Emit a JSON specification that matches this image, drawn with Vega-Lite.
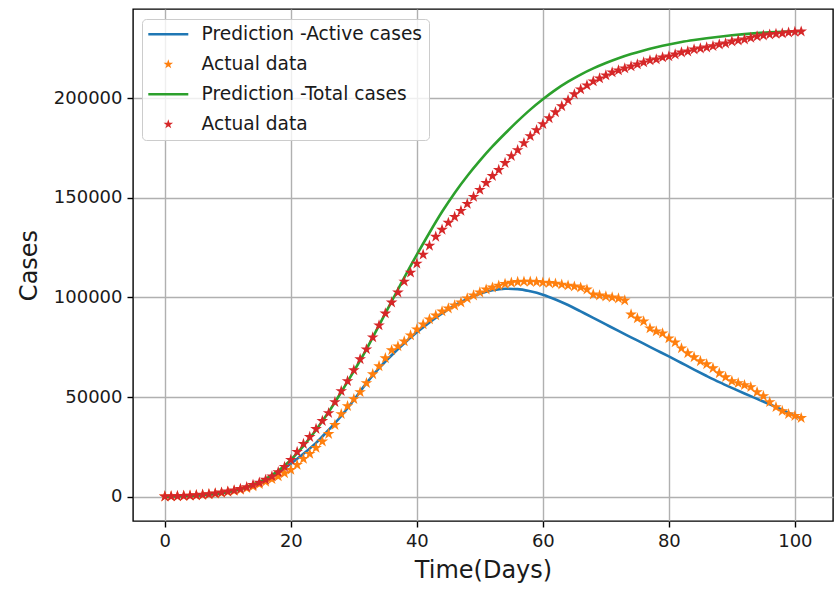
{
  "$schema": "https://vega.github.io/schema/vega-lite/v6.json",
  "width": 700,
  "height": 512,
  "autosize": {"type": "none"},
  "padding": {"left": 133, "top": 9, "right": 2, "bottom": 68},
  "background": "white",
  "config": {
    "font": "DejaVu Sans",
    "view": {"stroke": "#000000", "strokeWidth": 1.4},
    "axis": {
      "domain": false,
      "grid": true,
      "gridColor": "#b0b0b0",
      "gridWidth": 1.4,
      "tickColor": "#000000",
      "tickSize": 6,
      "tickWidth": 1.4,
      "labelFont": "DejaVu Sans",
      "labelFontSize": 18,
      "labelColor": "#1a1a1a",
      "labelPadding": 5,
      "titleFont": "DejaVu Sans",
      "titleFontSize": 24,
      "titleFontWeight": "normal",
      "titleColor": "#1a1a1a"
    }
  },
  "data": {
    "values": [
      {"s":"pa","d":0,"v":50},{"s":"pa","d":2,"v":200},{"s":"pa","d":4,"v":450},{"s":"pa","d":6,"v":800},{"s":"pa","d":8,"v":1400},{"s":"pa","d":10,"v":2300},{"s":"pa","d":12,"v":3700},{"s":"pa","d":14,"v":5600},{"s":"pa","d":16,"v":8300},{"s":"pa","d":18,"v":12000},{"s":"pa","d":20,"v":16500},{"s":"pa","d":22,"v":21500},{"s":"pa","d":24,"v":27000},{"s":"pa","d":26,"v":33500},{"s":"pa","d":28,"v":40500},{"s":"pa","d":30,"v":48500},{"s":"pa","d":32,"v":57000},{"s":"pa","d":34,"v":64500},{"s":"pa","d":36,"v":71000},{"s":"pa","d":38,"v":77000},{"s":"pa","d":40,"v":82500},{"s":"pa","d":42,"v":87500},{"s":"pa","d":44,"v":92000},{"s":"pa","d":46,"v":96000},{"s":"pa","d":48,"v":99300},{"s":"pa","d":50,"v":101900},{"s":"pa","d":52,"v":103600},{"s":"pa","d":54,"v":104400},{"s":"pa","d":56,"v":104200},{"s":"pa","d":58,"v":103100},{"s":"pa","d":60,"v":101400},{"s":"pa","d":62,"v":99000},{"s":"pa","d":64,"v":96200},{"s":"pa","d":66,"v":93000},{"s":"pa","d":68,"v":89800},{"s":"pa","d":70,"v":86500},{"s":"pa","d":72,"v":83200},{"s":"pa","d":74,"v":80000},{"s":"pa","d":76,"v":76800},{"s":"pa","d":78,"v":73600},{"s":"pa","d":80,"v":70400},{"s":"pa","d":82,"v":67100},{"s":"pa","d":84,"v":63800},{"s":"pa","d":86,"v":60600},{"s":"pa","d":88,"v":57500},{"s":"pa","d":90,"v":54600},{"s":"pa","d":92,"v":51800},{"s":"pa","d":94,"v":49100},{"s":"pa","d":96,"v":46400},{"s":"pa","d":98,"v":43600},{"s":"pa","d":100,"v":40700},{"s":"pa","d":101,"v":39300},
      {"s":"aa","d":0,"v":100},{"s":"aa","d":1,"v":150},{"s":"aa","d":2,"v":250},{"s":"aa","d":3,"v":380},{"s":"aa","d":4,"v":520},{"s":"aa","d":5,"v":700},{"s":"aa","d":6,"v":950},{"s":"aa","d":7,"v":1200},{"s":"aa","d":8,"v":1550},{"s":"aa","d":9,"v":1950},{"s":"aa","d":10,"v":2400},{"s":"aa","d":11,"v":2900},{"s":"aa","d":12,"v":3500},{"s":"aa","d":13,"v":4300},{"s":"aa","d":14,"v":5200},{"s":"aa","d":15,"v":6300},{"s":"aa","d":16,"v":7500},{"s":"aa","d":17,"v":8800},{"s":"aa","d":18,"v":10200},{"s":"aa","d":19,"v":11800},{"s":"aa","d":20,"v":13500},{"s":"aa","d":21,"v":16000},{"s":"aa","d":22,"v":19000},{"s":"aa","d":23,"v":21500},{"s":"aa","d":24,"v":24500},{"s":"aa","d":25,"v":27700},{"s":"aa","d":26,"v":31500},{"s":"aa","d":27,"v":36000},{"s":"aa","d":28,"v":41500},{"s":"aa","d":29,"v":45500},{"s":"aa","d":30,"v":49000},{"s":"aa","d":31,"v":52500},{"s":"aa","d":32,"v":57000},{"s":"aa","d":33,"v":61500},{"s":"aa","d":34,"v":65500},{"s":"aa","d":35,"v":69500},{"s":"aa","d":36,"v":73500},{"s":"aa","d":37,"v":75500},{"s":"aa","d":38,"v":78000},{"s":"aa","d":39,"v":81000},{"s":"aa","d":40,"v":84000},{"s":"aa","d":41,"v":86500},{"s":"aa","d":42,"v":89000},{"s":"aa","d":43,"v":91000},{"s":"aa","d":44,"v":93000},{"s":"aa","d":45,"v":94500},{"s":"aa","d":46,"v":96000},{"s":"aa","d":47,"v":97500},{"s":"aa","d":48,"v":99500},{"s":"aa","d":49,"v":101000},{"s":"aa","d":50,"v":102500},{"s":"aa","d":51,"v":104000},{"s":"aa","d":52,"v":105000},{"s":"aa","d":53,"v":106000},{"s":"aa","d":54,"v":106800},{"s":"aa","d":55,"v":107400},{"s":"aa","d":56,"v":107800},{"s":"aa","d":57,"v":108000},{"s":"aa","d":58,"v":107900},{"s":"aa","d":59,"v":107800},{"s":"aa","d":60,"v":107500},{"s":"aa","d":61,"v":107300},{"s":"aa","d":62,"v":107000},{"s":"aa","d":63,"v":106500},{"s":"aa","d":64,"v":106000},{"s":"aa","d":65,"v":105500},{"s":"aa","d":66,"v":105000},{"s":"aa","d":67,"v":104000},{"s":"aa","d":68,"v":101500},{"s":"aa","d":69,"v":101000},{"s":"aa","d":70,"v":100500},{"s":"aa","d":71,"v":100000},{"s":"aa","d":72,"v":99500},{"s":"aa","d":73,"v":98500},{"s":"aa","d":74,"v":91500},{"s":"aa","d":75,"v":89500},{"s":"aa","d":76,"v":88000},{"s":"aa","d":77,"v":84500},{"s":"aa","d":78,"v":83000},{"s":"aa","d":79,"v":82000},{"s":"aa","d":80,"v":79500},{"s":"aa","d":81,"v":77500},{"s":"aa","d":82,"v":74500},{"s":"aa","d":83,"v":72000},{"s":"aa","d":84,"v":70000},{"s":"aa","d":85,"v":68000},{"s":"aa","d":86,"v":66500},{"s":"aa","d":87,"v":64500},{"s":"aa","d":88,"v":62000},{"s":"aa","d":89,"v":60000},{"s":"aa","d":90,"v":58000},{"s":"aa","d":91,"v":57000},{"s":"aa","d":92,"v":56000},{"s":"aa","d":93,"v":55000},{"s":"aa","d":94,"v":52500},{"s":"aa","d":95,"v":50500},{"s":"aa","d":96,"v":47500},{"s":"aa","d":97,"v":45000},{"s":"aa","d":98,"v":43000},{"s":"aa","d":99,"v":41500},{"s":"aa","d":100,"v":40500},{"s":"aa","d":101,"v":39500},
      {"s":"pt","d":0,"v":50},{"s":"pt","d":2,"v":200},{"s":"pt","d":4,"v":450},{"s":"pt","d":6,"v":850},{"s":"pt","d":8,"v":1450},{"s":"pt","d":10,"v":2400},{"s":"pt","d":12,"v":3900},{"s":"pt","d":14,"v":6000},{"s":"pt","d":16,"v":9000},{"s":"pt","d":18,"v":13000},{"s":"pt","d":20,"v":18500},{"s":"pt","d":22,"v":25500},{"s":"pt","d":24,"v":33500},{"s":"pt","d":26,"v":42500},{"s":"pt","d":28,"v":52500},{"s":"pt","d":30,"v":63000},{"s":"pt","d":32,"v":74000},{"s":"pt","d":34,"v":86000},{"s":"pt","d":36,"v":98000},{"s":"pt","d":38,"v":110000},{"s":"pt","d":40,"v":121500},{"s":"pt","d":42,"v":132500},{"s":"pt","d":44,"v":143000},{"s":"pt","d":46,"v":152500},{"s":"pt","d":48,"v":161000},{"s":"pt","d":50,"v":168700},{"s":"pt","d":52,"v":175800},{"s":"pt","d":54,"v":182300},{"s":"pt","d":56,"v":188500},{"s":"pt","d":58,"v":194300},{"s":"pt","d":60,"v":199500},{"s":"pt","d":62,"v":204200},{"s":"pt","d":64,"v":208300},{"s":"pt","d":66,"v":211900},{"s":"pt","d":68,"v":215000},{"s":"pt","d":70,"v":217700},{"s":"pt","d":72,"v":220100},{"s":"pt","d":74,"v":222200},{"s":"pt","d":76,"v":224000},{"s":"pt","d":78,"v":225600},{"s":"pt","d":80,"v":227000},{"s":"pt","d":82,"v":228200},{"s":"pt","d":84,"v":229200},{"s":"pt","d":86,"v":230100},{"s":"pt","d":88,"v":230900},{"s":"pt","d":90,"v":231600},{"s":"pt","d":92,"v":232200},{"s":"pt","d":94,"v":232700},{"s":"pt","d":96,"v":233100},{"s":"pt","d":98,"v":233400},{"s":"pt","d":100,"v":233600},{"s":"pt","d":101,"v":233700},
      {"s":"at","d":0,"v":100},{"s":"at","d":1,"v":150},{"s":"at","d":2,"v":250},{"s":"at","d":3,"v":400},{"s":"at","d":4,"v":550},{"s":"at","d":5,"v":750},{"s":"at","d":6,"v":1000},{"s":"at","d":7,"v":1300},{"s":"at","d":8,"v":1700},{"s":"at","d":9,"v":2100},{"s":"at","d":10,"v":2600},{"s":"at","d":11,"v":3200},{"s":"at","d":12,"v":3900},{"s":"at","d":13,"v":4800},{"s":"at","d":14,"v":5900},{"s":"at","d":15,"v":7100},{"s":"at","d":16,"v":8500},{"s":"at","d":17,"v":10200},{"s":"at","d":18,"v":12300},{"s":"at","d":19,"v":15000},{"s":"at","d":20,"v":18500},{"s":"at","d":21,"v":22500},{"s":"at","d":22,"v":26500},{"s":"at","d":23,"v":30000},{"s":"at","d":24,"v":34000},{"s":"at","d":25,"v":38000},{"s":"at","d":26,"v":42000},{"s":"at","d":27,"v":47500},{"s":"at","d":28,"v":53000},{"s":"at","d":29,"v":58000},{"s":"at","d":30,"v":63500},{"s":"at","d":31,"v":69000},{"s":"at","d":32,"v":74000},{"s":"at","d":33,"v":80000},{"s":"at","d":34,"v":86000},{"s":"at","d":35,"v":92000},{"s":"at","d":36,"v":97500},{"s":"at","d":37,"v":102500},{"s":"at","d":38,"v":108000},{"s":"at","d":39,"v":112500},{"s":"at","d":40,"v":117000},{"s":"at","d":41,"v":121500},{"s":"at","d":42,"v":126000},{"s":"at","d":43,"v":130500},{"s":"at","d":44,"v":134000},{"s":"at","d":45,"v":137500},{"s":"at","d":46,"v":140500},{"s":"at","d":47,"v":143500},{"s":"at","d":48,"v":147000},{"s":"at","d":49,"v":150500},{"s":"at","d":50,"v":154000},{"s":"at","d":51,"v":157500},{"s":"at","d":52,"v":161000},{"s":"at","d":53,"v":164000},{"s":"at","d":54,"v":167500},{"s":"at","d":55,"v":171000},{"s":"at","d":56,"v":174000},{"s":"at","d":57,"v":177500},{"s":"at","d":58,"v":181000},{"s":"at","d":59,"v":184000},{"s":"at","d":60,"v":187000},{"s":"at","d":61,"v":190000},{"s":"at","d":62,"v":193000},{"s":"at","d":63,"v":196000},{"s":"at","d":64,"v":199000},{"s":"at","d":65,"v":202000},{"s":"at","d":66,"v":204500},{"s":"at","d":67,"v":206500},{"s":"at","d":68,"v":208500},{"s":"at","d":69,"v":210000},{"s":"at","d":70,"v":211500},{"s":"at","d":71,"v":213000},{"s":"at","d":72,"v":214000},{"s":"at","d":73,"v":215000},{"s":"at","d":74,"v":216000},{"s":"at","d":75,"v":217000},{"s":"at","d":76,"v":218000},{"s":"at","d":77,"v":219000},{"s":"at","d":78,"v":219500},{"s":"at","d":79,"v":220500},{"s":"at","d":80,"v":221000},{"s":"at","d":81,"v":222000},{"s":"at","d":82,"v":223000},{"s":"at","d":83,"v":223500},{"s":"at","d":84,"v":224500},{"s":"at","d":85,"v":225000},{"s":"at","d":86,"v":225500},{"s":"at","d":87,"v":226200},{"s":"at","d":88,"v":227000},{"s":"at","d":89,"v":227500},{"s":"at","d":90,"v":228500},{"s":"at","d":91,"v":229000},{"s":"at","d":92,"v":229500},{"s":"at","d":93,"v":230300},{"s":"at","d":94,"v":231000},{"s":"at","d":95,"v":231500},{"s":"at","d":96,"v":232000},{"s":"at","d":97,"v":232300},{"s":"at","d":98,"v":232600},{"s":"at","d":99,"v":233000},{"s":"at","d":100,"v":233300},{"s":"at","d":101,"v":233500}
    ]
  },
  "encoding": {
    "x": {
      "field": "d", "type": "quantitative",
      "scale": {"domain": [-5.05, 106.05], "nice": false, "zero": false},
      "axis": {"values": [0, 20, 40, 60, 80, 100], "title": "Time(Days)", "titlePadding": 8}
    },
    "y": {
      "field": "v", "type": "quantitative",
      "scale": {"domain": [-12200, 244800], "nice": false, "zero": false},
      "axis": {"values": [0, 50000, 100000, 150000, 200000], "format": "d", "title": "Cases", "titlePadding": 12}
    },
    "color": {
      "field": "s", "type": "nominal",
      "scale": {"domain": ["pa", "aa", "pt", "at"], "range": ["#1f77b4", "#ff7f0e", "#2ca02c", "#d62728"]},
      "legend": {
        "title": null,
        "orient": "none",
        "legendX": 9,
        "legendY": 10,
        "padding": 6,
        "fillColor": "rgba(255,255,255,0.8)",
        "strokeColor": "#cccccc",
        "cornerRadius": 4,
        "labelFont": "DejaVu Sans",
        "labelFontSize": 18.6,
        "labelColor": "#1a1a1a",
        "labelLimit": 0,
        "labelOffset": 24,
        "symbolOffset": 11,
        "symbolSize": 100,
        "rowPadding": 11,
        "labelExpr": "datum.label === 'pa' ? 'Prediction -Active cases' : (datum.label === 'pt' ? 'Prediction -Total cases' : 'Actual data')",
        "encode": {
          "symbols": {
            "update": {
              "shape": {"signal": "datum.value === 'pa' || datum.value === 'pt' ? 'M-4,0L4,0' : 'M0,-1L0.2245,-0.309L0.951,-0.309L0.3633,0.118L0.588,0.809L0,0.382L-0.588,0.809L-0.3633,0.118L-0.951,-0.309L-0.2245,-0.309Z'"},
              "fill": {"signal": "datum.value === 'pa' || datum.value === 'pt' ? 'transparent' : scale('color', datum.value)"},
              "stroke": {"signal": "scale('color', datum.value)"},
              "strokeWidth": {"signal": "datum.value === 'pa' || datum.value === 'pt' ? 2.6 : 0"},
              "opacity": {"value": 1}
            }
          }
        }
      }
    }
  },
  "layer": [
    {
      "transform": [{"filter": "datum.s === 'pa'"}],
      "mark": {"type": "line", "strokeWidth": 2.6, "interpolate": "monotone"}
    },
    {
      "transform": [{"filter": "datum.s === 'aa'"}],
      "mark": {"type": "point", "shape": "M0,-1L0.2245,-0.309L0.951,-0.309L0.3633,0.118L0.588,0.809L0,0.382L-0.588,0.809L-0.3633,0.118L-0.951,-0.309L-0.2245,-0.309Z", "filled": true, "size": 150, "opacity": 1}
    },
    {
      "transform": [{"filter": "datum.s === 'pt'"}],
      "mark": {"type": "line", "strokeWidth": 2.6, "interpolate": "monotone"}
    },
    {
      "transform": [{"filter": "datum.s === 'at'"}],
      "mark": {"type": "point", "shape": "M0,-1L0.2245,-0.309L0.951,-0.309L0.3633,0.118L0.588,0.809L0,0.382L-0.588,0.809L-0.3633,0.118L-0.951,-0.309L-0.2245,-0.309Z", "filled": true, "size": 150, "opacity": 1}
    }
  ]
}
